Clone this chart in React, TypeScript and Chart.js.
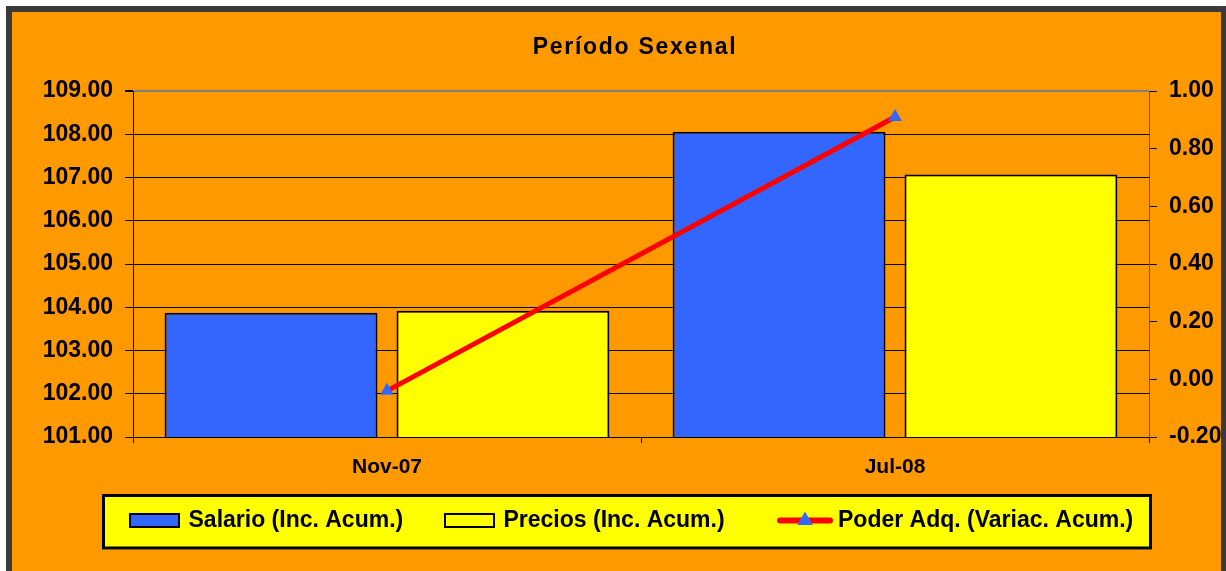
import React, { useEffect, useRef } from 'react';
import { Chart, registerables } from 'chart.js';

Chart.register(...registerables);

const categories = ['Nov-07', 'Jul-08'];
const salario = [103.87, 108.06];
const precios = [103.92, 107.07];
const poderAdq = [-0.04, 0.91];
const seriesLabels = ['Salario (Inc. Acum.)', 'Precios (Inc. Acum.)', 'Poder Adq. (Variac. Acum.)'];
const leftAxisTicks = [101, 102, 103, 104, 105, 106, 107, 108, 109];
const rightAxisTicks = [-0.2, 0, 0.2, 0.4, 0.6, 0.8, 1.0];
const titleText = 'Período Sexenal';

const FONT = '"Liberation Sans", Arial, Helvetica, sans-serif';
const BLUE = '#3366FF';
const YELLOW = '#FFFF00';
const RED = '#FF0000';
const ORANGE = '#FF9900';

const framePlugin = {
  id: 'frame',
  beforeDraw(chart: any) {
    const ctx = chart.ctx;
    const w = chart.width;
    const h = chart.height;
    ctx.save();
    ctx.fillStyle = '#ffffff';
    ctx.fillRect(0, 0, w, h);
    ctx.fillStyle = ORANGE;
    ctx.fillRect(6, 6, w - 6, h - 6);
    ctx.restore();
  },
  afterDraw(chart: any) {
    const ctx = chart.ctx;
    const w = chart.width;
    const h = chart.height;
    ctx.save();
    // Title
    ctx.fillStyle = '#000000';
    ctx.font = `bold 23px ${FONT}`;
    (ctx as any).letterSpacing = '1.7px';
    ctx.textAlign = 'center';
    ctx.textBaseline = 'alphabetic';
    ctx.fillText(titleText, 635, 54);
    (ctx as any).letterSpacing = '0px';

    // Legend box
    ctx.fillStyle = YELLOW;
    ctx.fillRect(102, 494, 1050, 55.5);
    ctx.lineWidth = 3;
    ctx.strokeStyle = '#000000';
    ctx.strokeRect(103.5, 495.5, 1047, 52.5);

    const ds = chart.data.datasets;
    const cy = 520.5;
    const itemX = [129, 444, 777];
    ctx.font = `bold 23px ${FONT}`;
    ctx.textAlign = 'left';
    ctx.textBaseline = 'middle';
    for (let i = 0; i < ds.length; i++) {
      const d = ds[i];
      const x = itemX[i];
      if (d.type === 'line') {
        ctx.strokeStyle = d.borderColor;
        ctx.lineWidth = 6;
        ctx.lineCap = 'round';
        ctx.beginPath();
        ctx.moveTo(x + 3, cy);
        ctx.lineTo(x + 53, cy);
        ctx.stroke();
        // triangle marker
        const r = 9;
        const mx = x + 28;
        ctx.fillStyle = d.pointBackgroundColor;
        ctx.beginPath();
        ctx.moveTo(mx, cy - r);
        ctx.lineTo(mx + r * Math.sin((2 * Math.PI) / 3), cy - r * Math.cos((2 * Math.PI) / 3));
        ctx.lineTo(mx + r * Math.sin((4 * Math.PI) / 3), cy - r * Math.cos((4 * Math.PI) / 3));
        ctx.closePath();
        ctx.fill();
        ctx.fillStyle = '#000000';
        ctx.fillText(d.label, x + 61, cy);
      } else {
        ctx.fillStyle = d.backgroundColor;
        ctx.fillRect(x, cy - 7.5, 51, 15);
        ctx.lineWidth = 2;
        ctx.strokeStyle = '#000000';
        ctx.strokeRect(x + 1, cy - 6.5, 49, 13);
        ctx.fillStyle = '#000000';
        ctx.fillText(d.label, x + 59.5, cy);
      }
    }

    // Outer frame border
    ctx.fillStyle = '#3a3a3a';
    ctx.fillRect(6, 6, 6, h - 6);
    ctx.fillRect(6, 6, w - 6, 6);
    ctx.fillRect(1221, 6, w - 1221, h - 6);
    ctx.restore();
  },
};

export default function App() {
  const canvasRef = useRef<HTMLCanvasElement | null>(null);

  useEffect(() => {
    const canvas = canvasRef.current;
    if (!canvas) return;
    const leftMax = leftAxisTicks[leftAxisTicks.length - 1];
    const chart = new Chart(canvas, {
      type: 'bar',
      data: {
        labels: categories,
        datasets: [
          {
            type: 'bar',
            label: seriesLabels[0],
            data: salario,
            backgroundColor: BLUE,
            borderColor: '#000000',
            borderWidth: 2,
            borderSkipped: false,
            yAxisID: 'y',
            order: 2,
            categoryPercentage: 0.913,
            barPercentage: 0.918,
          } as any,
          {
            type: 'bar',
            label: seriesLabels[1],
            data: precios,
            backgroundColor: YELLOW,
            borderColor: '#000000',
            borderWidth: 2,
            borderSkipped: false,
            yAxisID: 'y',
            order: 2,
            categoryPercentage: 0.913,
            barPercentage: 0.918,
          } as any,
          {
            type: 'line',
            label: seriesLabels[2],
            data: poderAdq,
            borderColor: RED,
            borderWidth: 5,
            backgroundColor: RED,
            pointStyle: 'triangle',
            pointRadius: 8,
            pointBackgroundColor: BLUE,
            pointBorderColor: BLUE,
            pointBorderWidth: 0,
            tension: 0,
            yAxisID: 'y1',
            order: 0,
            clip: false,
          } as any,
        ],
      },
      options: {
        responsive: false,
        devicePixelRatio: 1,
        animation: false,
        layout: { padding: { top: 91, left: 0, right: 0, bottom: 0 } },
        plugins: {
          legend: { display: false },
          title: { display: false },
          tooltip: { enabled: false },
        },
        scales: {
          x: {
            offset: true,
            grid: {
              display: true,
              drawOnChartArea: false,
              drawTicks: true,
              tickLength: 6,
              color: '#000000',
              offset: true,
            },
            border: { display: true, color: '#000000', width: 1 },
            ticks: {
              color: '#000000',
              padding: 12,
              font: { family: FONT, size: 21, weight: 'bold' },
            },
            afterFit: (scale: any) => {
              scale.height = 134;
            },
          },
          y: {
            position: 'left',
            min: leftAxisTicks[0],
            max: leftMax,
            ticks: {
              stepSize: 1,
              color: '#000000',
              padding: 12,
              font: { family: FONT, size: 23, weight: 'bold' },
              callback: (v: any) => Number(v).toFixed(2),
            },
            grid: {
              drawOnChartArea: true,
              drawTicks: true,
              tickLength: 8,
              color: (c: any) => (c.tick && c.tick.value === leftMax ? '#808080' : '#000000'),
              lineWidth: (c: any) => (c.tick && c.tick.value === leftMax ? 2 : 1),
              tickColor: '#000000',
            },
            border: { display: true, color: '#000000', width: 1 },
            afterFit: (scale: any) => {
              scale.width = 133;
            },
          },
          y1: {
            position: 'right',
            min: rightAxisTicks[0],
            max: rightAxisTicks[rightAxisTicks.length - 1],
            ticks: {
              stepSize: 0.2,
              color: '#000000',
              padding: 12,
              font: { family: FONT, size: 23, weight: 'bold' },
              callback: (v: any) => {
                const n = Math.abs(Number(v)) < 1e-9 ? 0 : Number(v);
                return n.toFixed(2);
              },
            },
            grid: {
              drawOnChartArea: false,
              drawTicks: true,
              tickLength: 8,
              color: '#000000',
            },
            border: { display: true, color: '#555555', width: 1 },
            afterFit: (scale: any) => {
              scale.width = 77;
            },
          },
        },
      } as any,
      plugins: [framePlugin],
    });
    return () => {
      chart.destroy();
    };
  }, []);

  return (
    <div style={{ position: 'absolute', left: 0, top: 0, width: 1226, height: 571 }}>
      <canvas ref={canvasRef} width={1226} height={571} style={{ display: 'block', width: 1226, height: 571 }} />
    </div>
  );
}
